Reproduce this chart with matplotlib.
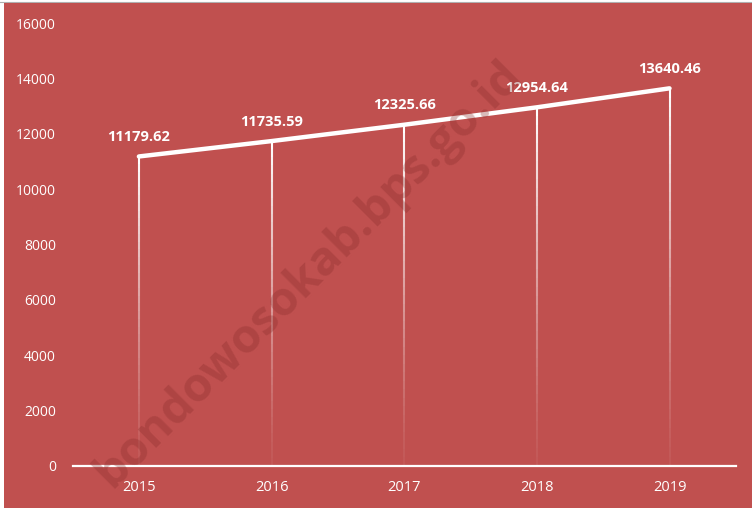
import numpy as np
import matplotlib.pyplot as plt
from matplotlib.patches import Rectangle

years = ["2015", "2016", "2017", "2018", "2019"]
values = [11179.62, 11735.59, 12325.66, 12954.64, 13640.46]
y_ticks = [0, 2000, 4000, 6000, 8000, 10000, 12000, 14000, 16000]

bg_red = "#C0504F"

plt.rcParams['font.family'] = ['Open Sans', 'DejaVu Sans']

fig = plt.figure(figsize=(7.52, 5.08), dpi=100, facecolor="white")
# red chart area (thin white strip at left and top, like the reference)
fig.patches.append(Rectangle((4 / 752, 0), 1, 1 - 3 / 508, transform=fig.transFigure,
                             facecolor=bg_red, edgecolor="none", zorder=-1))
fig.add_artist(plt.Line2D([0, 1], [1 - 2 / 508, 1 - 2 / 508], transform=fig.transFigure,
                          color="#b0b0b0", linewidth=0.8, zorder=-1))

ax = fig.add_axes([0.0965, 0.0827, 0.882, 0.872])
ax.set_facecolor("none")
ax.set_zorder(1)

x = np.arange(len(years))

# drop lines fading towards the bottom
n_seg = 40
for xi, v in zip(x, values):
    edges = np.linspace(0, v, n_seg + 1)
    for k in range(n_seg):
        a = 0.05 + 0.95 * (k / (n_seg - 1)) ** 1.3
        ax.plot([xi, xi], [edges[k], edges[k + 1]], color="white", alpha=a,
                linewidth=1.5, solid_capstyle="butt", zorder=2)

ax.plot(x, values, color="white", linewidth=3.2, solid_capstyle="round", zorder=3)

for xi, v in zip(x, values):
    ax.annotate(f"{v:.2f}", (xi, v), xytext=(0, 9), textcoords="offset points",
                ha="center", va="bottom", color="white", fontsize=10.5,
                fontweight="bold", zorder=4)

ax.set_xlim(-0.5, len(years) - 0.5)
ax.set_ylim(0, 16000)
ax.set_yticks(y_ticks)
ax.set_yticklabels([str(t) for t in y_ticks])
ax.set_xticks(x)
ax.set_xticklabels(years)

for s in ["top", "right", "left"]:
    ax.spines[s].set_visible(False)
ax.spines["bottom"].set_color("white")
ax.spines["bottom"].set_linewidth(1.6)

ax.tick_params(axis="y", length=0, pad=12, labelcolor="white", labelsize=10)
ax.tick_params(axis="x", length=0, pad=10, labelcolor="white", labelsize=10.5)

# watermark
fig.text(0.41, 0.46, "bondowosokab.bps.go.id", rotation=45, ha="center", va="center",
         fontsize=34, fontweight="bold", color="#8a2e2c", alpha=0.33, zorder=5)

fig.savefig("out.png", dpi=100, facecolor=fig.get_facecolor())
